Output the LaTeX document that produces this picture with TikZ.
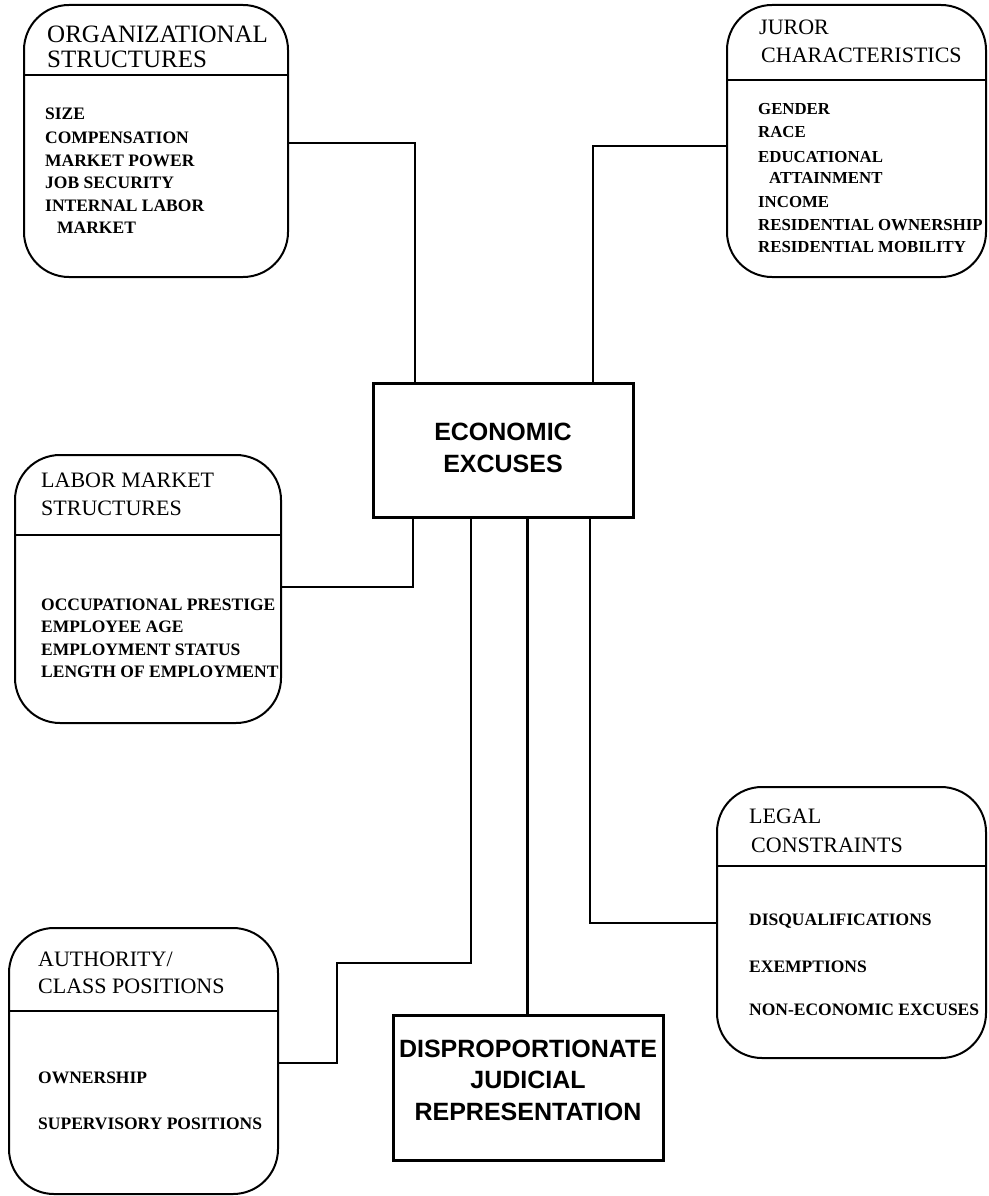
\documentclass[tikz,border=0pt]{standalone}
\usepackage{fontspec}
\setmainfont{Liberation Serif}
\newfontfamily\hv{Liberation Sans}
\begin{document}
\begin{tikzpicture}[x=1pt,y=-1pt,
  rbox/.style={draw, line width=2pt, rounded corners=45pt, inner sep=0pt},
  cbox/.style={draw, line width=3pt, inner sep=0pt},
  conn/.style={line width=2pt},
  ttl/.style={anchor=base west, inner sep=0pt, font=\fontsize{22}{24}\selectfont},
  bigttl/.style={anchor=base west, inner sep=0pt, font=\fontsize{25}{28}\selectfont},
  itm/.style={anchor=base west, inner sep=0pt, font=\fontsize{17.5}{20}\selectfont\bfseries},
  jitm/.style={itm, font=\fontsize{16.8}{20}\selectfont\bfseries},
  ctr/.style={anchor=base, inner sep=0pt, font=\hv\bfseries\fontsize{25}{28}\selectfont}]
\fill[white] (0,0) rectangle (988,1196);
\useasboundingbox (0,0) rectangle (988,1196);

% boxes
\node[rbox, minimum width=264pt, minimum height=272pt] (org) at (156,141) {};
\node[rbox, minimum width=259pt, minimum height=272pt] (jur) at (856.5,141) {};
\node[rbox, minimum width=266pt, minimum height=268pt] (lab) at (148,589) {};
\node[rbox, minimum width=269pt, minimum height=271pt] (leg) at (851.5,922.5) {};
\node[rbox, minimum width=269pt, minimum height=266pt] (auth) at (143.5,1061) {};
\node[cbox, minimum width=260pt, minimum height=134pt] (econ) at (503,450) {};
\node[cbox, minimum width=270pt, minimum height=145pt] (dis) at (528,1087.5) {};

% dividers
\coordinate (dorg) at (0,75);
\coordinate (djur) at (0,80);
\coordinate (dlab) at (0,535);
\coordinate (dleg) at (0,866);
\coordinate (daut) at (0,1011);
\draw[conn] (org.west |- dorg) -- (org.east |- dorg);
\draw[conn] (jur.west |- djur) -- (jur.east |- djur);
\draw[conn] (lab.west |- dlab) -- (lab.east |- dlab);
\draw[conn] (leg.west |- dleg) -- (leg.east |- dleg);
\draw[conn] (auth.west |- daut) -- (auth.east |- daut);

% texts: organizational
\node[bigttl] (t1) at (47,43) {ORGANIZATIONAL};
\node[bigttl] (t2) at (47,68) {STRUCTURES};
\node[itm] (o1) at (45,120) {SIZE};
\node[itm] (o2) at (45,143) {COMPENSATION};
\node[itm] (o3) at (45,166) {MARKET POWER};
\node[itm] (o4) at (45,188) {JOB SECURITY};
\node[itm] (o5) at (45,211) {INTERNAL LABOR};
\node[itm] (o6) at (57,233) {MARKET};

% juror
\node[ttl] (j1) at (759,35) {JUROR};
\node[ttl] (j2) at (761,63) {CHARACTERISTICS};
\node[jitm] (ja) at (758,115) {GENDER};
\node[jitm] (jb) at (758,138) {RACE};
\node[jitm] (jc) at (758,162) {EDUCATIONAL};
\node[jitm] (jd) at (769,183) {ATTAINMENT};
\node[jitm] (je) at (758,207) {INCOME};
\node[jitm] (jf) at (758,230) {RESIDENTIAL OWNERSHIP};
\node[jitm] (jg) at (758,252) {RESIDENTIAL MOBILITY};

% labor
\node[ttl] (l1) at (41,487) {LABOR MARKET};
\node[ttl] (l2) at (41,515) {STRUCTURES};
\node[itm] (la) at (41,610) {OCCUPATIONAL PRESTIGE};
\node[itm] (lb) at (41,632) {EMPLOYEE AGE};
\node[itm] (lc) at (41,655) {EMPLOYMENT STATUS};
\node[itm] (ld) at (41,677) {LENGTH OF EMPLOYMENT};

% legal
\node[ttl] (g1) at (749,823) {LEGAL};
\node[ttl] (g2) at (751,852) {CONSTRAINTS};
\node[itm] (ga) at (749,925) {DISQUALIFICATIONS};
\node[itm] (gb) at (749,972) {EXEMPTIONS};
\node[itm] (gc) at (749,1015) {NON-ECONOMIC EXCUSES};

% authority
\node[ttl] (a1) at (38,966) {AUTHORITY/};
\node[ttl] (a2) at (38,993) {CLASS POSITIONS};
\node[itm] (aa) at (38,1083) {OWNERSHIP};
\node[itm] (ab) at (38,1129) {SUPERVISORY POSITIONS};

% central
\node[ctr] (e1) at (503,440) {ECONOMIC};
\node[ctr] (e2) at (503,472) {EXCUSES};
\node[ctr] (d1) at (528,1057) {DISPROPORTIONATE};
\node[ctr] (d2) at (528,1088) {JUDICIAL};
\node[ctr] (d3) at (528,1120) {REPRESENTATION};

% connectors
\coordinate (k1) at (415,143);
\draw[conn] (org.east |- k1) -- (k1) -- (econ.north -| k1);
\coordinate (k2) at (593,146);
\draw[conn] (jur.west |- k2) -- (k2) -- (econ.north -| k2);
\coordinate (k3) at (413,587);
\draw[conn] (lab.east |- k3) -- (k3) -- (econ.south -| k3);
\coordinate (k4a) at (337,1063);
\coordinate (k4b) at (337,963);
\coordinate (k4c) at (471,963);
\draw[conn] (auth.east |- k4a) -- (k4a) -- (k4b) -- (k4c) -- (econ.south -| k4c);
\coordinate (k5) at (590,923);
\draw[conn] (leg.west |- k5) -- (k5) -- (econ.south -| k5);
\coordinate (k6) at (527,0);
\draw[line width=3pt] (econ.south -| k6) -- (dis.north -| k6);
\end{tikzpicture}
\end{document}
